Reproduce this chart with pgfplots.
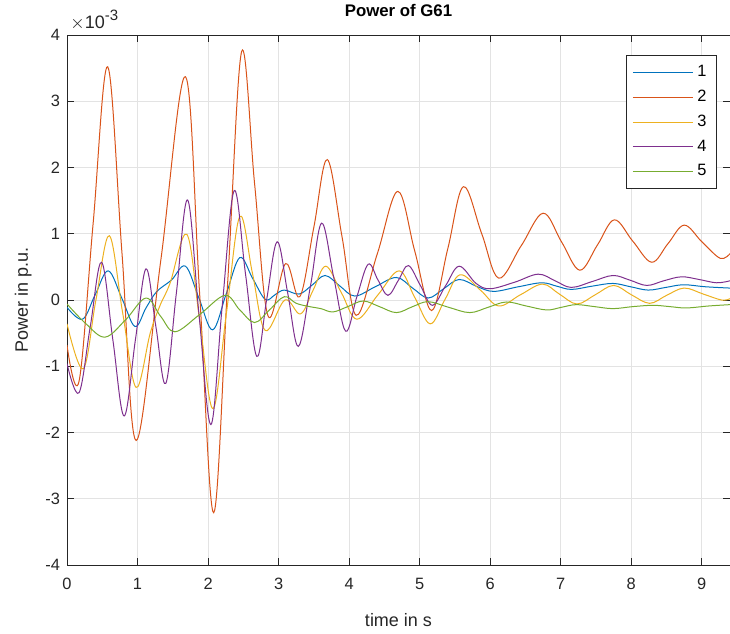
\documentclass[border=0pt]{standalone}
\usepackage{pgfplots}
\pgfplotsset{compat=1.18}
\usepackage{fontspec}
\setmainfont{Liberation Sans}
\usetikzlibrary{calc}
\definecolor{c1}{rgb}{0,0.447,0.741}
\definecolor{c2}{rgb}{0.85,0.325,0.098}
\definecolor{c3}{rgb}{0.929,0.694,0.125}
\definecolor{c4}{rgb}{0.494,0.184,0.556}
\definecolor{c5}{rgb}{0.466,0.674,0.188}
\definecolor{axgray}{rgb}{0.15,0.15,0.15}
\begin{document}
\begin{tikzpicture}
\begin{axis}[
  scale only axis, width=331.5pt, height=265pt,
  xmin=0, xmax=9.4, ymin=-4, ymax=4,
  clip mode=individual,
  xtick={0,1,2,3,4,5,6,7,8,9}, ytick={-4,-3,-2,-1,0,1,2,3,4},
  grid=major, major grid style={color=black!11, line width=0.4pt},
  axis line style={color=axgray, line width=0.4pt},
  tick style={color=axgray, line width=0.4pt},
  tick align=inside, major tick length=3.5pt, tick pos=both,
  /pgf/number format/assume math mode=true,
  ticklabel style={font=\fontsize{8.2}{9}\selectfont, text=axgray},
  xticklabel style={yshift=-3pt},
  title={Power of G61},
  title style={font=\bfseries\fontsize{8.4}{10}\selectfont, yshift=-0.5pt},
  xlabel={time in s}, ylabel={Power in p.u.},
  label style={font=\fontsize{9}{10}\selectfont, text=axgray},
  xlabel style={yshift=-5pt},
  legend style={at={(0.9804,0.9623)}, anchor=north east, draw=axgray, line width=0.4pt,
     font=\fontsize{8.2}{9}\selectfont, text=black, row sep=1.2pt, inner xsep=3pt, inner ysep=3pt},
  legend cell align=left,
  legend image code/.code={\draw[#1] (0pt,0pt) -- (30pt,0pt);},
  every axis plot/.append style={line width=0.5pt, smooth, tension=0.6},
]
\addplot[c1] coordinates {
(0,-0.11) (0.22,-0.29) (0.40,0.08) (0.585,0.44) (0.78,0.02) (0.964,-0.40) (1.12,-0.12)
(1.27,0.125) (1.48,0.30) (1.68,0.51) (1.87,0.03) (2.065,-0.45) (2.26,0.10) (2.45,0.64)
(2.63,0.33) (2.81,0.01) (2.95,0.08) (3.08,0.15) (3.29,0.09) (3.47,0.22) (3.66,0.37)
(3.87,0.21) (4.08,0.06) (4.37,0.20) (4.67,0.34) (4.90,0.18) (5.12,0.03) (5.34,0.17)
(5.56,0.31) (5.82,0.20) (6.05,0.13) (6.40,0.20) (6.73,0.26) (6.94,0.21) (7.15,0.16)
(7.45,0.21) (7.74,0.25) (7.99,0.20) (8.24,0.15) (8.49,0.19) (8.74,0.23) (9.05,0.20) (9.40,0.18)
};
\addlegendentry{1}
\addplot[c2] coordinates {
(0,-0.68) (0.17,-1.23) (0.37,1.15) (0.577,3.52) (0.78,0.70) (0.98,-2.12) (1.33,0.6)
(1.68,3.37) (1.88,0.1) (2.08,-3.21) (2.28,0.3) (2.476,3.75) (2.66,1.75) (2.85,-0.24)
(3.10,0.55) (3.30,0.05) (3.50,1.1) (3.69,2.12) (3.90,0.95) (4.10,-0.23) (4.40,0.70)
(4.69,1.64) (4.93,0.74) (5.17,-0.16) (5.40,0.78) (5.62,1.71) (5.88,1.0) (6.12,0.33)
(6.44,0.82) (6.75,1.31) (7.01,0.88) (7.27,0.45) (7.52,0.83) (7.76,1.21) (8.02,0.89)
(8.29,0.57) (8.52,0.85) (8.75,1.13) (9.00,0.88) (9.26,0.63) (9.40,0.70)
};
\addlegendentry{2}
\addplot[c3] coordinates {
(0,-0.36) (0.23,-1.04) (0.41,0.0) (0.60,0.97) (0.79,-0.2) (0.98,-1.32) (1.18,-0.5)
(1.32,-0.08) (1.46,0.25) (1.70,0.99) (1.88,-0.3) (2.07,-1.64) (2.26,-0.2) (2.45,1.26)
(2.63,0.4) (2.81,-0.46) (3.09,0.0) (3.31,-0.21) (3.49,0.15) (3.67,0.51) (3.89,0.11)
(4.11,-0.29) (4.41,0.08) (4.71,0.44) (4.93,0.04) (5.15,-0.36) (5.36,0.01) (5.57,0.38)
(5.86,0.15) (6.12,-0.09) (6.43,0.08) (6.74,0.24) (6.98,0.09) (7.23,-0.06) (7.49,0.08)
(7.75,0.22) (8.0,0.08) (8.26,-0.05) (8.50,0.07) (8.75,0.18) (9.02,0.09) (9.28,0.0) (9.40,0.02)
};
\addlegendentry{3}
\addplot[c4] coordinates {
(0,-0.96) (0.17,-1.40) (0.33,-0.4) (0.49,0.57) (0.65,-0.6) (0.81,-1.75) (0.97,-0.6)
(1.12,0.47) (1.26,-0.4) (1.40,-1.26) (1.55,0.1) (1.71,1.51) (1.87,-0.2) (2.04,-1.88)
(2.20,-0.1) (2.37,1.65) (2.53,0.4) (2.69,-0.85) (2.83,0.0) (2.98,0.88) (3.13,0.1)
(3.28,-0.70) (3.45,0.2) (3.61,1.16) (3.78,0.35) (3.95,-0.47) (4.11,0.05) (4.27,0.54)
(4.41,0.30) (4.55,0.07) (4.70,0.30) (4.84,0.52) (5.01,0.22) (5.18,-0.08) (5.37,0.22)
(5.56,0.51) (5.80,0.25) (6.0,0.17) (6.35,0.27) (6.68,0.39) (6.92,0.29) (7.15,0.19)
(7.45,0.28) (7.74,0.37) (7.98,0.30) (8.22,0.22) (8.46,0.29) (8.71,0.35) (8.96,0.31)
(9.21,0.26) (9.40,0.29)
};
\addlegendentry{4}
\addplot[c5] coordinates {
(0,-0.06) (0.27,-0.36) (0.54,-0.56) (0.83,-0.30) (1.12,0.03) (1.33,-0.25) (1.53,-0.48)
(1.88,-0.22) (2.24,0.07) (2.45,-0.15) (2.66,-0.34) (2.87,-0.15) (3.08,0.05) (3.25,-0.05)
(3.44,-0.10) (3.60,-0.13) (3.77,-0.18) (3.98,-0.10) (4.20,-0.015) (4.43,-0.10) (4.67,-0.19)
(4.90,-0.10) (5.12,-0.025) (5.41,-0.11) (5.71,-0.19) (5.97,-0.11) (6.23,-0.03) (6.51,-0.09)
(6.80,-0.15) (7.01,-0.11) (7.22,-0.07) (7.48,-0.10) (7.74,-0.13) (8.02,-0.10) (8.31,-0.08)
(8.55,-0.10) (8.78,-0.12) (9.10,-0.09) (9.40,-0.07)
};
\addlegendentry{5}
\node[anchor=south west, font=\fontsize{9}{10}\selectfont, text=axgray, inner sep=0pt]
  at ($(rel axis cs:0,1)+(1.5pt,2pt)$) {$\times$10\raisebox{0.85ex}{\fontsize{7.5}{8}\selectfont -3}};
\end{axis}
\pgfresetboundingbox
\useasboundingbox ($(current axis.south west)+(-33.5pt,-34pt)$) rectangle ($(current axis.north east)+(0pt,17.5pt)$);
\end{tikzpicture}
\end{document}
